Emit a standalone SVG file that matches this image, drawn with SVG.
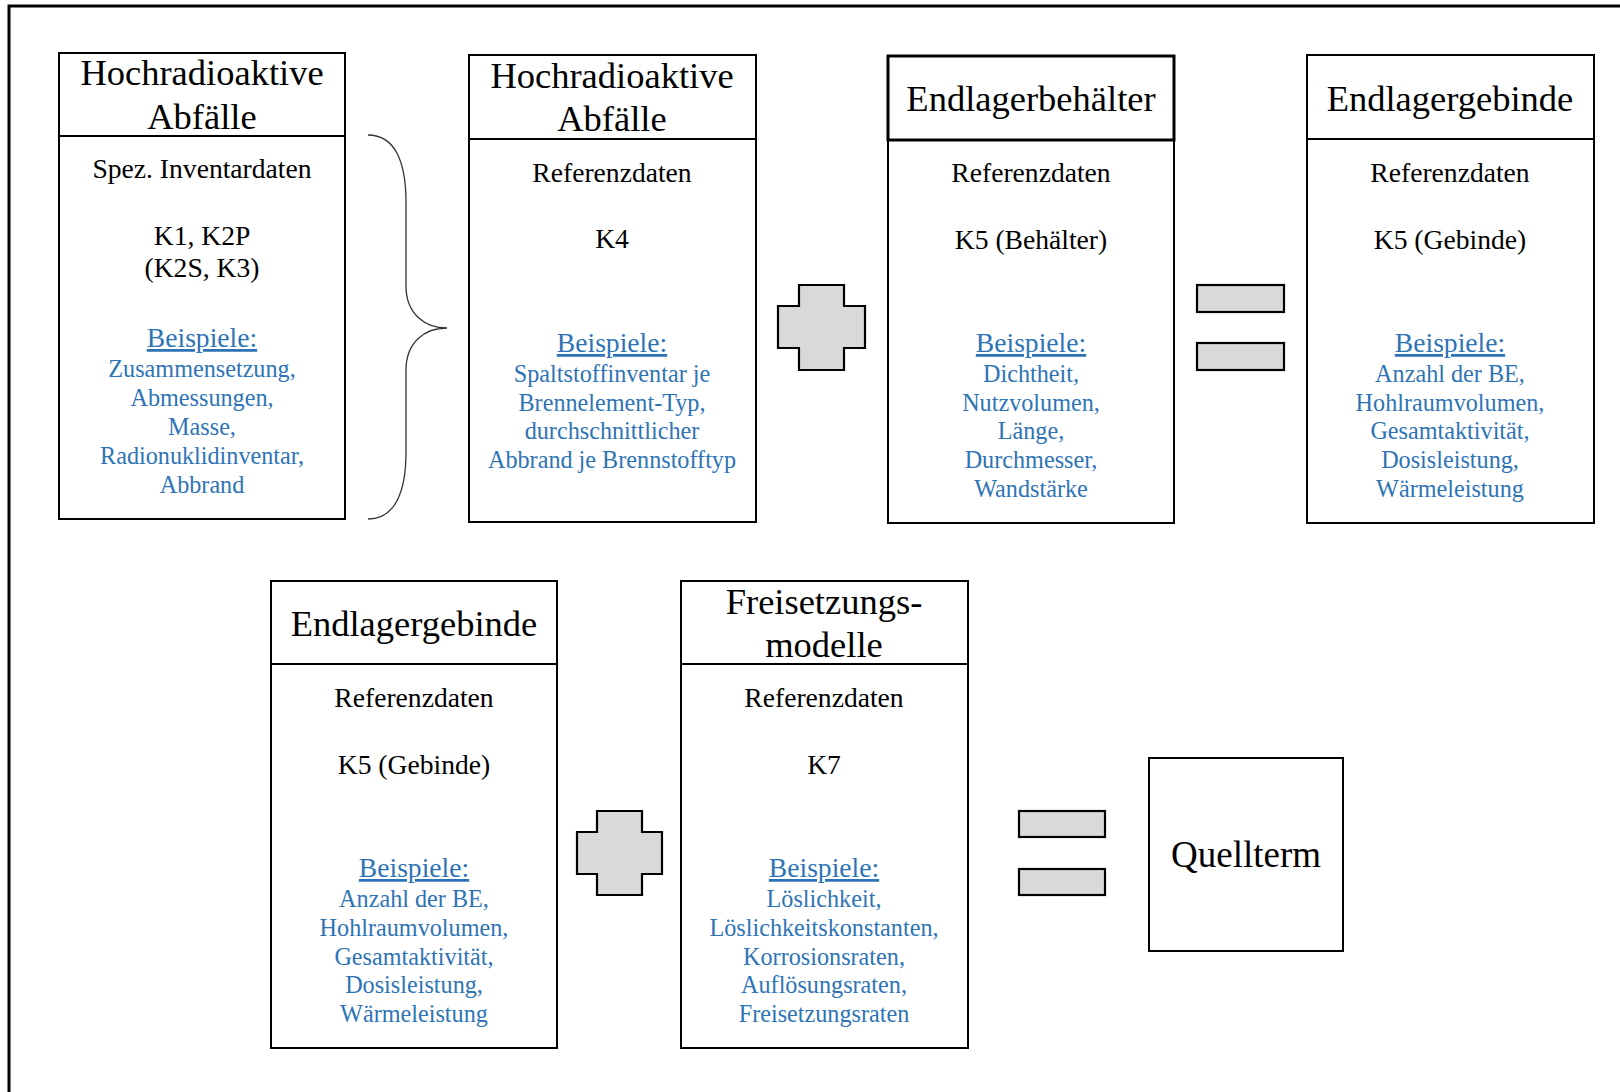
<svg xmlns="http://www.w3.org/2000/svg" width="1620" height="1092" viewBox="0 0 1620 1092">
<style>
.box{fill:#fff;stroke:#000;stroke-width:2}
.hbox{fill:#fff;stroke:#000;stroke-width:3}
.sym{fill:#d9d9d9;stroke:#000;stroke-width:2.2}
text{font-family:"Liberation Serif","Times New Roman",serif;text-anchor:middle}
.t{font-size:36.5px;fill:#000}
.b{font-size:27.6px;fill:#000}
.ex{font-size:27.6px;fill:#2e74b5;text-decoration:underline}
.bl{font-size:24.2px;fill:#2e74b5}
</style>
<rect width="1620" height="1092" fill="#fff"/>
<path d="M9,1092 V6 H1620" fill="none" stroke="#000" stroke-width="3"/>

<g id="connectors">
<path d="M368,135 C395,135 406,162 406,202 L406,286 C406,314 425,328 447,328 C425,328 406,342 406,370 L406,452 C406,492 395,519 368,519" fill="none" stroke="#333" stroke-width="1.3"/>
<polygon class="sym" points="799,285 844,285 844,306 865,306 865,348 844,348 844,370 799,370 799,348 778,348 778,306 799,306"/>
<rect class="sym" x="1197" y="285" width="87" height="27"/>
<rect class="sym" x="1197" y="343" width="87" height="27"/>
<polygon class="sym" points="597,811 642,811 642,832 662,832 662,874 642,874 642,895 597,895 597,874 577,874 577,832 597,832"/>
<rect class="sym" x="1019" y="811" width="86" height="26"/>
<rect class="sym" x="1019" y="869" width="86" height="26"/>
</g>

<g id="box1">
<rect class="box" x="59" y="53" width="286" height="466"/>
<line x1="59" y1="136" x2="345" y2="136" stroke="#000" stroke-width="2"/>
<text class="t" x="202" y="85">Hochradioaktive</text>
<text class="t" x="202" y="129">Abfälle</text>
<text class="b" x="202" y="178">Spez. Inventardaten</text>
<text class="b" x="202" y="245">K1, K2P</text>
<text class="b" x="202" y="277">(K2S, K3)</text>
<text class="ex" x="202" y="347">Beispiele:</text>
<text class="bl" x="202" y="377">Zusammensetzung,</text>
<text class="bl" x="202" y="406">Abmessungen,</text>
<text class="bl" x="202" y="435">Masse,</text>
<text class="bl" x="202" y="464">Radionuklidinventar,</text>
<text class="bl" x="202" y="493">Abbrand</text>
</g>

<g id="box2">
<rect class="box" x="469" y="55" width="287" height="467"/>
<line x1="469" y1="139" x2="756" y2="139" stroke="#000" stroke-width="2"/>
<text class="t" x="612" y="88">Hochradioaktive</text>
<text class="t" x="612" y="131">Abfälle</text>
<text class="b" x="612" y="182">Referenzdaten</text>
<text class="b" x="612" y="248">K4</text>
<text class="ex" x="612" y="352">Beispiele:</text>
<text class="bl" x="612" y="382">Spaltstoffinventar je</text>
<text class="bl" x="612" y="411">Brennelement-Typ,</text>
<text class="bl" x="612" y="439">durchschnittlicher</text>
<text class="bl" x="612" y="468">Abbrand je Brennstofftyp</text>
</g>

<g id="box3">
<rect class="box" x="888" y="56" width="286" height="467"/>
<rect class="hbox" x="888" y="56" width="286" height="84"/>
<text class="t" x="1031" y="111">Endlagerbehälter</text>
<text class="b" x="1031" y="182">Referenzdaten</text>
<text class="b" x="1031" y="249">K5 (Behälter)</text>
<text class="ex" x="1031" y="352">Beispiele:</text>
<text class="bl" x="1031" y="382">Dichtheit,</text>
<text class="bl" x="1031" y="411">Nutzvolumen,</text>
<text class="bl" x="1031" y="439">Länge,</text>
<text class="bl" x="1031" y="468">Durchmesser,</text>
<text class="bl" x="1031" y="497">Wandstärke</text>
</g>

<g id="box4">
<rect class="box" x="1307" y="55" width="287" height="468"/>
<line x1="1307" y1="139" x2="1594" y2="139" stroke="#000" stroke-width="2"/>
<text class="t" x="1450" y="111">Endlagergebinde</text>
<text class="b" x="1450" y="182">Referenzdaten</text>
<text class="b" x="1450" y="249">K5 (Gebinde)</text>
<text class="ex" x="1450" y="352">Beispiele:</text>
<text class="bl" x="1450" y="382">Anzahl der BE,</text>
<text class="bl" x="1450" y="411">Hohlraumvolumen,</text>
<text class="bl" x="1450" y="439">Gesamtaktivität,</text>
<text class="bl" x="1450" y="468">Dosisleistung,</text>
<text class="bl" x="1450" y="497">Wärmeleistung</text>
</g>

<g id="box5">
<rect class="box" x="271" y="581" width="286" height="467"/>
<line x1="271" y1="664" x2="557" y2="664" stroke="#000" stroke-width="2"/>
<text class="t" x="414" y="636">Endlagergebinde</text>
<text class="b" x="414" y="707">Referenzdaten</text>
<text class="b" x="414" y="774">K5 (Gebinde)</text>
<text class="ex" x="414" y="877">Beispiele:</text>
<text class="bl" x="414" y="907">Anzahl der BE,</text>
<text class="bl" x="414" y="936">Hohlraumvolumen,</text>
<text class="bl" x="414" y="965">Gesamtaktivität,</text>
<text class="bl" x="414" y="993">Dosisleistung,</text>
<text class="bl" x="414" y="1022">Wärmeleistung</text>
</g>

<g id="box6">
<rect class="box" x="681" y="581" width="287" height="467"/>
<line x1="681" y1="664" x2="968" y2="664" stroke="#000" stroke-width="2"/>
<text class="t" x="824" y="614">Freisetzungs-</text>
<text class="t" x="824" y="657">modelle</text>
<text class="b" x="824" y="707">Referenzdaten</text>
<text class="b" x="824" y="774">K7</text>
<text class="ex" x="824" y="877">Beispiele:</text>
<text class="bl" x="824" y="907">Löslichkeit,</text>
<text class="bl" x="824" y="936">Löslichkeitskonstanten,</text>
<text class="bl" x="824" y="965">Korrosionsraten,</text>
<text class="bl" x="824" y="993">Auflösungsraten,</text>
<text class="bl" x="824" y="1022">Freisetzungsraten</text>
</g>

<g id="quellterm">
<rect class="box" x="1149" y="758" width="194" height="193"/>
<text class="t" x="1246" y="867" style="font-size:37px">Quellterm</text>
</g>
</svg>
